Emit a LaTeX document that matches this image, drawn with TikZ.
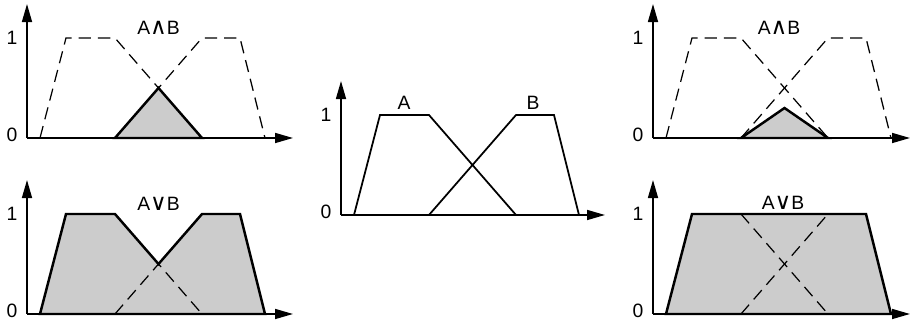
\documentclass[tikz,border=0pt]{standalone}
\usepackage{fontspec}
\setmainfont{Liberation Sans}
\newfontfamily\symfont{DejaVu Sans}
\usetikzlibrary{arrows.meta}

\begin{document}
\begin{tikzpicture}[x=0.02cm,y=0.02cm,
  font=\fontsize{11}{13}\selectfont,
  axis/.style={line width=0.9pt,-{Triangle[length=3.6mm,width=2mm]}},
  memb/.style={line width=1pt,line join=miter},
  ghost/.style={line width=0.7pt,dash pattern=on 7pt off 4pt},
  area/.style={fill=black!20,draw,line width=1.4pt,line join=miter}]
  \useasboundingbox (0,0) rectangle (914,324);

  \begin{scope}[shift={(27,186)},y=2cm]
    \draw[ghost] (13,0) -- (39,1) -- (88,1) -- (175,0);
    \draw[ghost] (88,0) -- (175,1) -- (213,1) -- (238,0);
    \draw[area] (88,0) -- (131.5,0.5) -- (175,0) -- cycle;
    \node (minL) at (131.5,1.1) {A{\symfont\fontsize{13}{13}\selectfont ∧}B};
  \end{scope}

  \begin{scope}[shift={(27,10)},y=2cm]
    \draw[area] (13,0) -- (39,1) -- (88,1) -- (131.5,0.5) -- (175,1) -- (213,1) -- (238,0) -- cycle;
    \draw[ghost] (88,0) -- (131.5,0.5) -- (175,0);
    \node (maxL) at (131.5,1.1) {A{\symfont\fontsize{13}{13}\selectfont ∨}B};
  \end{scope}

  \begin{scope}[shift={(341,109)},y=2cm]
    \draw[memb] (13,0) -- (39,1) -- (88,1) -- (175,0);
    \draw[memb] (88,0) -- (175,1) -- (213,1) -- (238,0);
    \node (setA) at (63,1.12) {A};
    \node (setB) at (192,1.12) {B};
  \end{scope}

  \begin{scope}[shift={(653,186)},y=2cm]
    \draw[ghost] (13,0) -- (39,1) -- (88,1) -- (175,0);
    \draw[ghost] (88,0) -- (175,1) -- (213,1) -- (238,0);
    \draw[area] (88,0) -- (131.5,0.3) -- (175,0) -- cycle;
    \node (prodR) at (126,1.1) {A{\symfont\fontsize{13}{13}\selectfont ∧}B};
  \end{scope}

  \begin{scope}[shift={(653,10)},y=2cm]
    \draw[area] (13,0) -- (39,1) -- (213,1) -- (238,0) -- cycle;
    \draw[ghost] (88,1) -- (175,0);
    \draw[ghost] (88,0) -- (175,1);
    \node (sumR) at (130,1.11) {A{\symfont\fontsize{13}{13}\selectfont ∨}B};
  \end{scope}

  \foreach \px/\py/\len [count=\i] in {27/186/266,27/10/266,341/109/264,653/186/257,653/10/257}{
    \begin{scope}[shift={(\px,\py)},y=2cm]
      \draw[axis] (0,0) -- (\len,0);
      \draw[axis] (0,0) -- (0,1.34);
      \node[left=2pt] (one\i) at (0,1) {1};
      \node[left=2pt] (zero\i) at (0,0.03) {0};
    \end{scope}
  }
\end{tikzpicture}
\end{document}
